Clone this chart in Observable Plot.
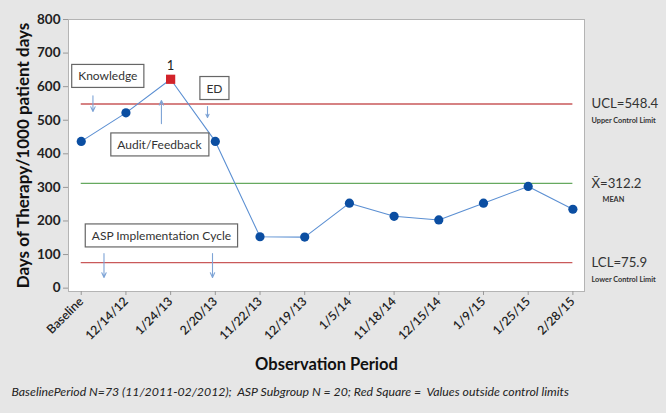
<!DOCTYPE html>
<html>
<head>
<meta charset="utf-8">
<script src="https://cdn.jsdelivr.net/npm/d3@7"></script>
<script src="https://cdn.jsdelivr.net/npm/@observablehq/plot@0.6"></script>
<style>
  html, body { margin: 0; padding: 0; background: #e6e6e6; }
  #chart svg { display: block; }
</style>
</head>
<body>
<div id="chart"></div>
<script>
// ---- data ----
const periods = ["Baseline","12/14/12","1/24/13","2/20/13","11/22/13","12/19/13","1/5/14","11/18/14","12/15/14","1/9/15","1/25/15","2/28/15"];
const dot = [437, 522, 622, 437, 153, 152, 253, 214, 203, 253, 303, 235];
const UCL = 548.4, MEAN = 312.2, LCL = 75.9;
const limitLabels = ["UCL=548.4", "X\u0304=312.2", "LCL=75.9"];
const limitNotes = ["Upper Control Limit", "MEAN", "Lower Control Limit"];

// annotations (position in index / value space)
const boxLabels = ["Knowledge", "Audit/Feedback", "ED", "ASP Implementation Cycle"];
const boxX = [0.594, 1.749, 2.98, 1.794];
const boxY = [630, 426, 594, 155];
const arrowX = [0.262, 1.794, 2.825, 0.509, 2.937];
const arrowY1 = [573, 490, 541, 103, 103];
const arrowY2 = [526, 559, 508, 32, 32];

const yTitle = "Days of Therapy/1000 patient days";
const xTitle = "Observation Period";
const caption = "BaselinePeriod N=73 (11/2011-02/2012);  ASP Subgroup N = 20; Red Square =  Values outside control limits";

// ---- tables ----
const data = dot.map((v, i) => ({i, v, out: v > UCL || v < LCL}));
const limits = [UCL, MEAN, LCL].map((v, k) => ({v, label: limitLabels[k], note: limitNotes[k]}));
const boxes = boxLabels.map((t, k) => ({t, x: boxX[k], y: boxY[k]}));
const arrows = arrowX.map((x, k) => ({x, y1: arrowY1[k], y2: arrowY2[k]}));

const font = "Lato, 'Open Sans', sans-serif";

const plot = Plot.plot({
  width: 666,
  height: 413,
  marginLeft: 68,
  marginRight: 82,
  marginTop: 19,
  marginBottom: 122,
  style: {background: "#e6e6e6", fontFamily: font, color: "#222"},
  x: {domain: [-0.285, 11.26], label: null},
  y: {domain: [-10, 800], label: null},
  marks: [
    Plot.frame({fill: "white", stroke: "#b4b4b4"}),
    Plot.axisY({ticks: d3.range(0, 801, 100), tickSize: 5, tickPadding: 3, fontSize: 13.5, fontWeight: "bold", stroke: "#999", label: null}),
    Plot.axisX({ticks: d3.range(periods.length), tickFormat: i => periods[i], tickSize: 4, tickPadding: 4, tickRotate: -45, fontSize: 12.3, fontWeight: 600, stroke: "#999", label: null}),
    // control limits
    Plot.ruleY([UCL, LCL], {x1: 0, x2: 11, stroke: "#c9595a", strokeWidth: 1.3}),
    Plot.ruleY([MEAN], {x1: 0, x2: 11, stroke: "#66a95f", strokeWidth: 1.3}),
    // series
    Plot.line(data, {x: "i", y: "v", stroke: "#5b8fd2", strokeWidth: 1.1}),
    Plot.dot(data.filter(d => !d.out), {x: "i", y: "v", r: 4.6, fill: "#0b4ea2", stroke: "none"}),
    Plot.dot(data.filter(d => d.out), {x: "i", y: "v", symbol: "square", r: 5.2, fill: "#d2232a", stroke: "none"}),
    Plot.text(data.filter(d => d.out), {x: "i", y: "v", text: () => "1", dy: -13, fontSize: 13, fill: "#222"}),
    // arrows
    Plot.arrow(arrows, {x1: "x", x2: "x", y1: "y1", y2: "y2", stroke: "#7ea4d6", strokeWidth: 1.1, headLength: 7, headAngle: 50}),
    // annotation boxes (labels; frames added below)
    Plot.text(boxes, {x: "x", y: "y", text: "t", fontSize: 12, fill: "#333"}),
    // limit labels
    Plot.text(limits, {y: "v", text: "label", frameAnchor: "right", dx: 7, textAnchor: "start", fontSize: 13.2, fill: "#333"}),
    Plot.text(limits.filter(d => d.note !== "MEAN"), {y: "v", text: "note", frameAnchor: "right", dx: 7, dy: 17, textAnchor: "start", fontSize: 7.3, fontWeight: "bold", fill: "#333"}),
    Plot.text(limits.filter(d => d.note === "MEAN"), {y: "v", text: "note", frameAnchor: "right", dx: 18, dy: 16, textAnchor: "start", fontSize: 7.3, fontWeight: "bold", fill: "#333"}),
    // titles
    Plot.text([yTitle], {frameAnchor: "left", dx: -45, rotate: -90, textAnchor: "middle", fontSize: 17, fontWeight: "bold", fill: "#111"}),
    Plot.text([xTitle], {frameAnchor: "bottom", dy: 78, fontSize: 16.5, fontWeight: "bold", fill: "#111"}),
    Plot.text([caption], {frameAnchor: "bottom-left", dx: -57, dy: 104, textAnchor: "start", fontSize: 12.3, fontStyle: "italic", fill: "#222"})
  ]
});

document.getElementById("chart").appendChild(plot);

// draw boxes around annotation labels
d3.select(plot).selectAll("text").filter(function() {
  return boxLabels.includes(this.textContent);
}).each(function() {
  const b = this.getBBox();
  const padX = 6.5, padY = 4;
  d3.select(this.parentNode).insert("rect", () => this)
    .attr("x", b.x - padX).attr("y", b.y - padY)
    .attr("width", b.width + 2 * padX).attr("height", b.height + 2 * padY)
    .attr("fill", "white").attr("stroke", "#666").attr("stroke-width", 1.2)
    .attr("transform", this.getAttribute("transform"));
});
</script>
</body>
</html>
